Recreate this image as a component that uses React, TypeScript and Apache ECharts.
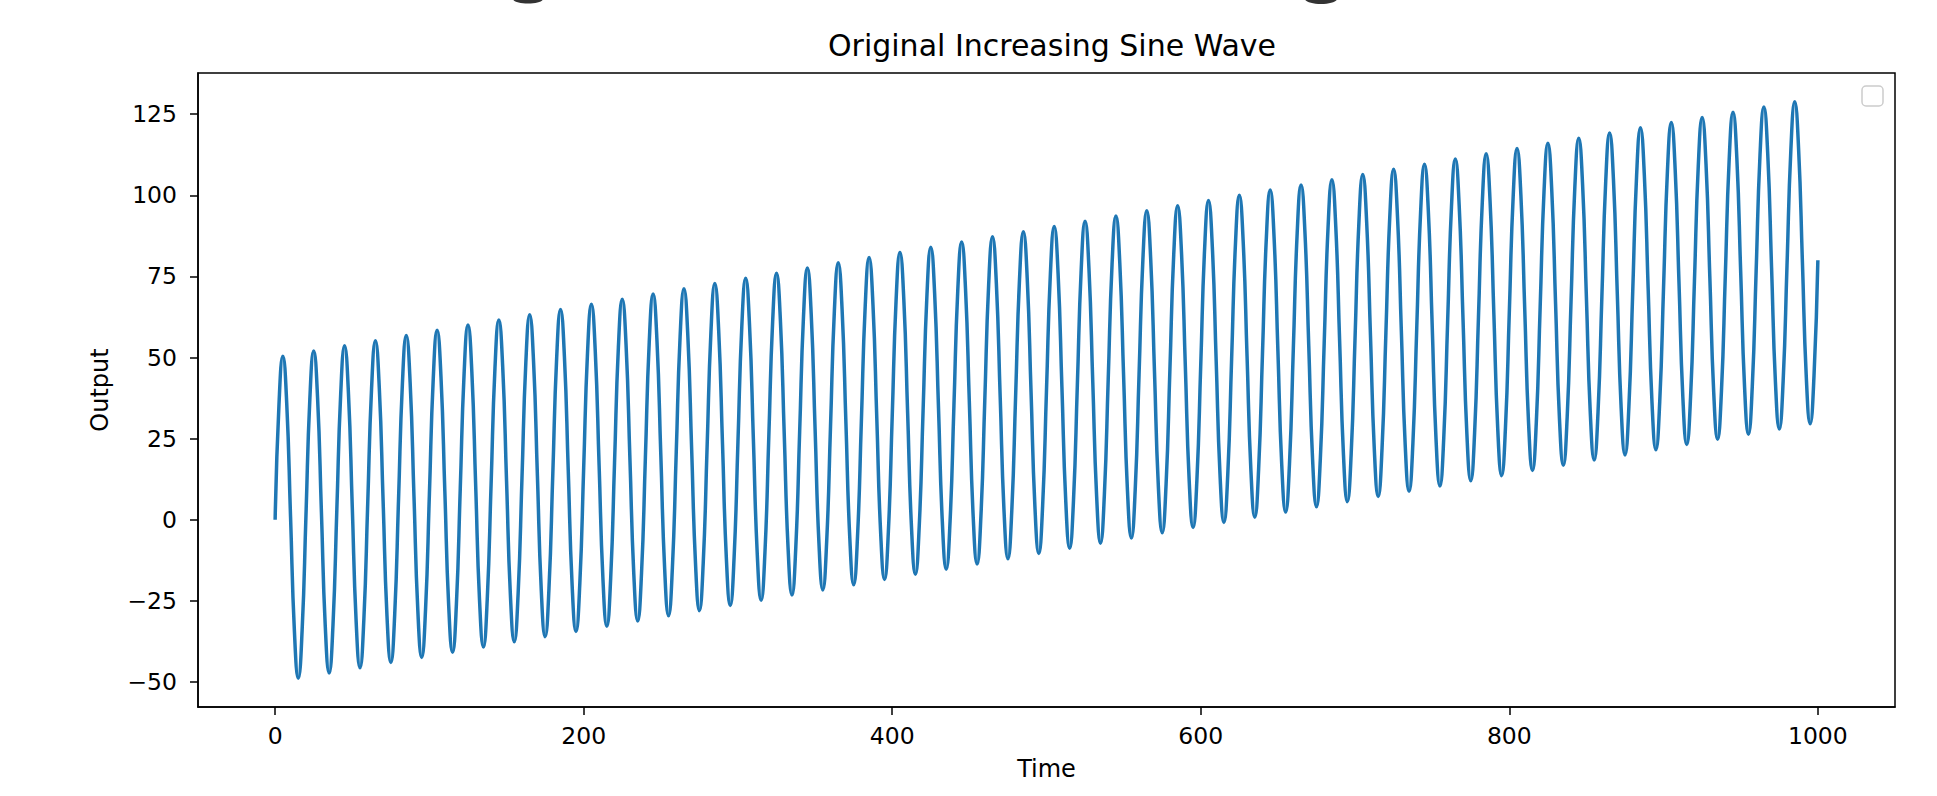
import React, { useEffect, useRef } from "react";
import * as echarts from "echarts";

// Sampling step of the recorded signal (time units between samples)
const timeStep = 2.5;

// Output values, one sample every 2.5 time units (t = 0 … 1000)
const outputValues: number[] = [
  0, 35.6, 50.4, 36.0, 0.8, -34.4, -48.8, -34.0,
  1.6, 37.2, 52.0, 37.6, 2.4, -32.8, -47.2, -32.4,
  3.2, 38.8, 53.6, 39.2, 4.0, -31.2, -45.6, -30.8,
  4.8, 40.4, 55.2, 40.8, 5.6, -29.6, -44.0, -29.2,
  6.4, 42.0, 56.8, 42.4, 7.2, -28.0, -42.4, -27.6,
  8.0, 43.6, 58.4, 44.0, 8.8, -26.4, -40.8, -26.0,
  9.6, 45.2, 60.0, 45.6, 10.4, -24.8, -39.2, -24.4,
  11.2, 46.8, 61.6, 47.2, 12.0, -23.2, -37.6, -22.8,
  12.8, 48.4, 63.2, 48.8, 13.6, -21.6, -36.0, -21.2,
  14.4, 50.0, 64.8, 50.4, 15.2, -20.0, -34.4, -19.6,
  16.0, 51.6, 66.4, 52.0, 16.8, -18.4, -32.8, -18.0,
  17.6, 53.2, 68.0, 53.6, 18.4, -16.8, -31.2, -16.4,
  19.2, 54.8, 69.6, 55.2, 20.0, -15.2, -29.6, -14.8,
  20.8, 56.4, 71.2, 56.8, 21.6, -13.6, -28.0, -13.2,
  22.4, 58.0, 72.8, 58.4, 23.2, -12.0, -26.4, -11.6,
  24.0, 59.6, 74.4, 60.0, 24.8, -10.4, -24.8, -10.0,
  25.6, 61.2, 76.0, 61.6, 26.4, -8.8, -23.2, -8.4,
  27.2, 62.8, 77.6, 63.2, 28.0, -7.2, -21.6, -6.8,
  28.8, 64.4, 79.2, 64.8, 29.6, -5.6, -20.0, -5.2,
  30.4, 66.0, 80.8, 66.4, 31.2, -4.0, -18.4, -3.6,
  32.0, 67.6, 82.4, 68.0, 32.8, -2.4, -16.8, -2.0,
  33.6, 69.2, 84.0, 69.6, 34.4, -0.8, -15.2, -0.4,
  35.2, 70.8, 85.6, 71.2, 36.0, 0.8, -13.6, 1.2,
  36.8, 72.4, 87.2, 72.8, 37.6, 2.4, -12.0, 2.8,
  38.4, 74.0, 88.8, 74.4, 39.2, 4.0, -10.4, 4.4,
  40.0, 75.6, 90.4, 76.0, 40.8, 5.6, -8.8, 6.0,
  41.6, 77.2, 92.0, 77.6, 42.4, 7.2, -7.2, 7.6,
  43.2, 78.8, 93.6, 79.2, 44.0, 8.8, -5.6, 9.2,
  44.8, 80.4, 95.2, 80.8, 45.6, 10.4, -4.0, 10.8,
  46.4, 82.0, 96.8, 82.4, 47.2, 12.0, -2.4, 12.4,
  48.0, 83.6, 98.4, 84.0, 48.8, 13.6, -0.8, 14.0,
  49.6, 85.2, 100.0, 85.6, 50.4, 15.2, 0.8, 15.6,
  51.2, 86.8, 101.6, 87.2, 52.0, 16.8, 2.4, 17.2,
  52.8, 88.4, 103.2, 88.8, 53.6, 18.4, 4.0, 18.8,
  54.4, 90.0, 104.8, 90.4, 55.2, 20.0, 5.6, 20.4,
  56.0, 91.6, 106.4, 92.0, 56.8, 21.6, 7.2, 22.0,
  57.6, 93.2, 108.0, 93.6, 58.4, 23.2, 8.8, 23.6,
  59.2, 94.8, 109.6, 95.2, 60.0, 24.8, 10.4, 25.2,
  60.8, 96.4, 111.2, 96.8, 61.6, 26.4, 12.0, 26.8,
  62.4, 98.0, 112.8, 98.4, 63.2, 28.0, 13.6, 28.4,
  64.0, 99.6, 114.4, 100.0, 64.8, 29.6, 15.2, 30.0,
  65.6, 101.2, 116.0, 101.6, 66.4, 31.2, 16.8, 31.6,
  67.2, 102.8, 117.6, 103.2, 68.0, 32.8, 18.4, 33.2,
  68.8, 104.4, 119.2, 104.8, 69.6, 34.4, 20.0, 34.8,
  70.4, 106.0, 120.8, 106.4, 71.2, 36.0, 21.6, 36.4,
  72.0, 107.6, 122.4, 108.0, 72.8, 37.6, 23.2, 38.0,
  73.6, 109.2, 124.0, 109.6, 74.4, 39.2, 24.8, 39.6,
  75.2, 110.8, 125.6, 111.2, 76.0, 40.8, 26.4, 41.2,
  76.8, 112.4, 127.2, 112.8, 77.6, 42.4, 28.0, 42.8,
  78.4, 114.0, 128.8, 114.4, 79.2, 44.0, 29.6, 44.4,
  80.0,
];

// Tick labels
const xTicks: number[] = [0, 200, 400, 600, 800, 1000];
const yTicks: number[] = [-50, -25, 0, 25, 50, 75, 100, 125];

const titleText = "Original Increasing Sine Wave";
const xName = "Time";
const yName = "Output";

const FONT = "DejaVu Sans";
const fmt = (v: number) => String(v).replace("-", "\u2212");

export default function App() {
  const ref = useRef<HTMLDivElement>(null);

  useEffect(() => {
    if (!ref.current) return;
    const chart = echarts.init(ref.current, undefined, { renderer: "svg" });
    const seriesData = outputValues.map((v, i) => [i * timeStep, v]);

    chart.setOption({
      animation: false,
      backgroundColor: "#ffffff",
      title: {
        text: titleText,
        left: 1047,
        textAlign: "center",
        top: 25,
        textStyle: { fontFamily: FONT, fontSize: 30, fontWeight: "normal", color: "#000" },
      },
      grid: {
        left: 198,
        right: 42,
        top: 73,
        height: 634,
        show: true,
        borderColor: "#000",
        borderWidth: 1.5,
        backgroundColor: "transparent",
      },
      xAxis: {
        type: "value",
        min: -50,
        max: 1050,
        name: xName,
        nameLocation: "middle",
        nameGap: 50,
        nameTextStyle: { fontFamily: FONT, fontSize: 24, color: "#000" },
        axisLine: { show: true, onZero: false, lineStyle: { color: "#000", width: 1.5 } },
        axisTick: { show: true, customValues: xTicks, length: 8, lineStyle: { color: "#000", width: 1.5 } },
        axisLabel: { customValues: xTicks, margin: 17, fontFamily: FONT, fontSize: 23.5, color: "#000", formatter: (v: number) => fmt(v) },
        splitLine: { show: false },
      },
      yAxis: {
        type: "value",
        min: -57.68,
        max: 137.68,
        name: yName,
        nameLocation: "middle",
        nameGap: 86,
        nameRotate: 90,
        nameTextStyle: { fontFamily: FONT, fontSize: 24, color: "#000" },
        axisLine: { show: true, onZero: false, lineStyle: { color: "#000", width: 1.5 } },
        axisTick: { show: true, customValues: yTicks, length: 8, lineStyle: { color: "#000", width: 1.5 } },
        axisLabel: { customValues: yTicks, margin: 21, fontFamily: FONT, fontSize: 23.5, color: "#000", formatter: (v: number) => fmt(v) },
        splitLine: { show: false },
      },
      graphic: [
        {
          type: "rect",
          shape: { x: 1862, y: 86, width: 21, height: 20, r: 4 },
          style: { fill: "#fff", stroke: "#cccccc", lineWidth: 1.5 },
          z: 10,
        },
        {
          type: "ellipse",
          shape: { cx: 528, cy: -1, rx: 15, ry: 4.5 },
          style: { fill: "#333333" },
        },
        {
          type: "ellipse",
          shape: { cx: 1321, cy: -1, rx: 16, ry: 5 },
          style: { fill: "#333333" },
        },
      ],
      series: [
        {
          type: "line",
          data: seriesData,
          smooth: true,
          showSymbol: false,
          clip: true,
          lineStyle: { color: "#1f77b4", width: 3.5 },
          itemStyle: { color: "#1f77b4" },
        },
      ],
    });

    return () => chart.dispose();
  }, []);

  return (
    <div
      ref={ref}
      style={{ position: "absolute", left: 0, top: 0, width: 1937, height: 796 }}
    />
  );
}
